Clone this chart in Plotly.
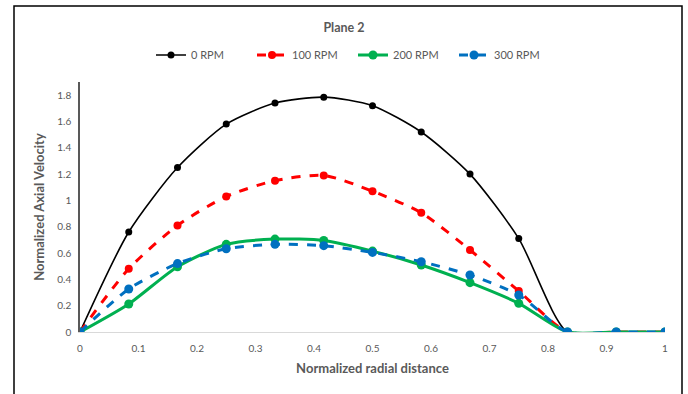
import plotly.graph_objects as go

x_vals = [0, 1/12, 2/12, 3/12, 4/12, 5/12, 6/12, 7/12, 8/12, 9/12, 10/12, 11/12, 1]
rpm0 = [0, 0.76, 1.25, 1.58, 1.74, 1.785, 1.72, 1.52, 1.20, 0.71, 0, 0, 0]
rpm100 = [0, 0.48, 0.81, 1.03, 1.15, 1.19, 1.07, 0.906, 0.623, 0.311, 0, 0, 0]
rpm200 = [0, 0.213, 0.496, 0.666, 0.706, 0.696, 0.615, 0.509, 0.375, 0.218, 0, 0, 0]
rpm300 = [0, 0.327, 0.52, 0.633, 0.666, 0.656, 0.605, 0.534, 0.433, 0.281, 0, 0, 0]
names = ["0 RPM", "100 RPM", "200 RPM", "300 RPM"]
x_ticks = [0, 0.1, 0.2, 0.3, 0.4, 0.5, 0.6, 0.7, 0.8, 0.9, 1]
y_ticks = [0, 0.2, 0.4, 0.6, 0.8, 1, 1.2, 1.4, 1.6, 1.8]

FONT = "Lato"
GRAY = "#595959"

styles = [
    dict(color="#000000", width=1.6, dash="solid", msize=7),
    dict(color="#FF0000", width=3, dash="dash", msize=8),
    dict(color="#00B050", width=3, dash="solid", msize=9),
    dict(color="#0070C0", width=3, dash="dash", msize=9),
]

fig = go.Figure()
for name, ys, st in zip(names, [rpm0, rpm100, rpm200, rpm300], styles):
    fig.add_trace(go.Scatter(
        x=x_vals, y=ys, name=name, mode="lines+markers",
        line=dict(color=st["color"], width=st["width"], dash=st["dash"],
                  shape="spline", smoothing=0.7),
        marker=dict(color=st["color"], size=st["msize"]),
    ))

fig.update_layout(
    width=688, height=394,
    margin=dict(l=80, r=23, t=82, b=62),
    paper_bgcolor="white", plot_bgcolor="white",
    font=dict(family=FONT, color=GRAY, size=11),
    title=dict(text="<b>Plane 2</b>", x=0.5, xref="container", xanchor="center",
               y=1 - 28/394, yref="container", yanchor="middle",
               font=dict(size=12.5, color=GRAY, family=FONT)),
    legend=dict(orientation="h", x=151/688, xref="container", xanchor="left",
                y=1 - 55/394, yref="container", yanchor="middle",
                entrywidth=56, entrywidthmode="pixels",
                font=dict(size=11, color=GRAY, family=FONT),
                bgcolor="rgba(0,0,0,0)"),
    xaxis=dict(range=[0, 1], tickvals=x_ticks, ticktext=[f"{v:g}" for v in x_ticks],
               showgrid=False, zeroline=False, showline=True,
               linecolor="#D9D9D9", linewidth=1.2,
               ticks="outside", ticklen=7, tickcolor="rgba(0,0,0,0)",
               tickfont=dict(size=10, color=GRAY),
               title=dict(text="<b>Normalized radial distance</b>",
                          font=dict(size=13, color=GRAY), standoff=10)),
    yaxis=dict(range=[0, 1.9], tickvals=y_ticks, ticktext=[f"{v:g}" for v in y_ticks],
               showgrid=False, zeroline=False, showline=True,
               linecolor=GRAY, linewidth=1.5,
               ticks="outside", ticklen=5, tickcolor="rgba(0,0,0,0)",
               tickfont=dict(size=10, color=GRAY),
               title=dict(text="<b>Normalized Axial Velocity</b>",
                          font=dict(size=13, color=GRAY), standoff=10)),
    shapes=[dict(type="rect", xref="paper", yref="paper",
                 x0=(14 - 80) / 585, x1=(682 - 80) / 585,
                 y0=(332 - 410) / 250, y1=(332 - 6) / 250,
                 line=dict(color="#000000", width=1.5), layer="below")],
)

fig.write_html("out.html")
